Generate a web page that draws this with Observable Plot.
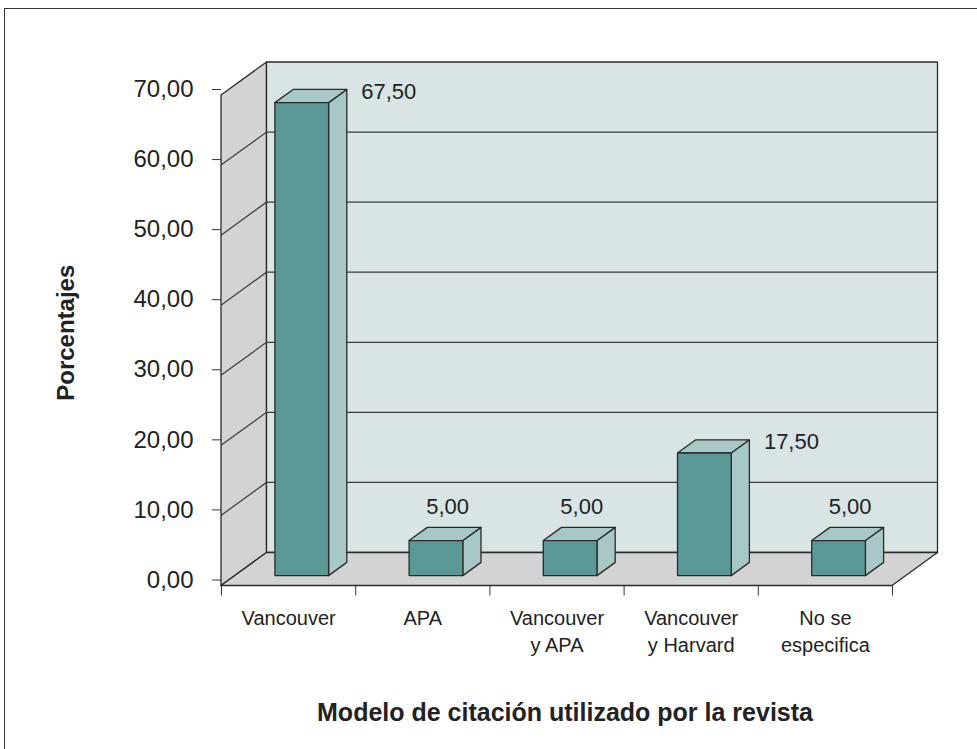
<!DOCTYPE html>
<html>
<head>
<meta charset="utf-8">
<script src="https://cdn.jsdelivr.net/npm/d3@7"></script>
<script src="https://cdn.jsdelivr.net/npm/@observablehq/plot@0.6"></script>
<style>
  html, body { margin: 0; padding: 0; background: #fff; overflow: hidden; }
  #wrap { position: relative; width: 977px; height: 749px; }
  #border { position: absolute; left: 4px; top: 8px; width: 2000px; height: 2000px;
            border-left: 1.5px solid #333; border-top: 1.5px solid #333; pointer-events: none; }
  #chart { position: absolute; left: 0; top: 0; }
</style>
</head>
<body>
<div id="wrap"><div id="chart"></div><div id="border"></div></div>
<script>
// ---- data ----
const categories = ["Vancouver", "APA", "Vancouver\ny APA", "Vancouver\ny Harvard", "No se\nespecifica"];
const values = [67.5, 5, 5, 17.5, 5];
const valueLabels = ["67,50", "5,00", "5,00", "17,50", "5,00"];
const yTicks = [0, 10, 20, 30, 40, 50, 60, 70];
const xTitle = "Modelo de citación utilizado por la revista";
const yTitle = "Porcentajes";

// ---- style constants ----
const DEPTH_X = 45.5, DEPTH_Y = -33;     // full floor depth in px
const BAR_D0 = 0.3, BAR_D1 = 0.7;        // bar position in depth
const BAR_X0 = 0.3, BAR_X1 = 0.7;        // bar position in its category
const C_WALL = "#d8e5e4", C_SIDE = "#d3d3d5", C_FRONT = "#5a9996", C_LIGHT = "#a7c8c6", C_STROKE = "#2a2a2a";
const FONT = "'Liberation Sans', Arial, Helvetica, sans-serif";

const rows = values.map((v, i) => ({i, v, label: valueLabels[i], cat: categories[i]}));
const nCat = categories.length;
const yMax = yTicks[yTicks.length - 1];

function pts(list) { return list.map(p => p.join(",")).join(" "); }

// walls, floor and gridlines, drawn through the x/y scales
function walls(index, scales) {
  const {x, y} = scales;
  const P = (xv, yv, d) => [x(xv) + d * DEPTH_X, y(yv) + d * DEPTH_Y];
  const g = d3.create("svg:g");
  const poly = (list, fill) => g.append("polygon").attr("points", pts(list))
    .attr("fill", fill).attr("stroke", C_STROKE).attr("stroke-width", 1.3).attr("stroke-linejoin", "round");
  poly([P(0, 0, 0), P(0, yMax, 0), P(0, yMax, 1), P(0, 0, 1)], C_SIDE);
  poly([P(0, 0, 1), P(0, yMax, 1), P(nCat, yMax, 1), P(nCat, 0, 1)], C_WALL);
  for (const t of yTicks) {
    if (t === 0 || t === yMax) continue;
    g.append("polyline").attr("points", pts([P(0, t, 0), P(0, t, 1), P(nCat, t, 1)]))
      .attr("fill", "none").attr("stroke", "#3a3a3a").attr("stroke-width", 1.2);
  }
  poly([P(0, 0, 0), P(nCat, 0, 0), P(nCat, 0, 1), P(0, 0, 1)], C_SIDE);
  return g.node();
}

function bars(index, scales) {
  const {x, y} = scales;
  const P = (xv, yv, d) => [x(xv) + d * DEPTH_X, y(yv) + d * DEPTH_Y];
  const g = d3.create("svg:g");
  const poly = (list, fill) => g.append("polygon").attr("points", pts(list))
    .attr("fill", fill).attr("stroke", C_STROKE).attr("stroke-width", 1.3).attr("stroke-linejoin", "round");
  for (const r of rows) {
    const a = r.i + BAR_X0, b = r.i + BAR_X1;
    poly([P(b, 0, BAR_D0), P(b, r.v, BAR_D0), P(b, r.v, BAR_D1), P(b, 0, BAR_D1)], C_LIGHT);
    poly([P(a, r.v, BAR_D0), P(a, r.v, BAR_D1), P(b, r.v, BAR_D1), P(b, r.v, BAR_D0)], C_LIGHT);
    poly([P(a, 0, BAR_D0), P(a, r.v, BAR_D0), P(b, r.v, BAR_D0), P(b, 0, BAR_D0)], C_FRONT);
  }
  return g.node();
}

const fmt = d => d.toFixed(2).replace(".", ",");
const tall = rows.filter(r => r.v > 10);
const small = rows.filter(r => r.v <= 10);

const chart = Plot.plot({
  width: 977,
  height: 749,
  marginLeft: 221,
  marginRight: 85,
  marginTop: 95,
  marginBottom: 163.5,
  x: {type: "linear", domain: [0, nCat], axis: null},
  y: {type: "linear", domain: [0, yMax], axis: null},
  style: {fontFamily: FONT, fontSize: "22px", color: "#222", background: "transparent", overflow: "visible"},
  marks: [
    walls,
    bars,
    Plot.axisY({ticks: yTicks, tickSize: 9, tickPadding: 19, tickFormat: fmt, dy: -6, fontSize: 24, label: null, stroke: "#333"}),
    Plot.axisX({ticks: d3.range(nCat + 1), tickSize: 10, tickFormat: () => "", label: null, stroke: "#333"}),
    Plot.text(rows, {x: d => d.i + 0.5, frameAnchor: "bottom", text: "cat", lineAnchor: "top", dy: 20,
      fontSize: 20, lineHeight: 1.35, fill: "#222"}),
    Plot.text(small, {x: d => d.i + 0.5, y: "v", text: "label", lineAnchor: "bottom",
      dx: 0.5 * DEPTH_X + 2, dy: BAR_D1 * DEPTH_Y - 14, fontSize: 22, fill: "#222"}),
    Plot.text(tall, {x: d => d.i + BAR_X1, y: "v", text: "label", lineAnchor: "middle", textAnchor: "start",
      dx: BAR_D1 * DEPTH_X + 14, dy: 0.5 * DEPTH_Y - 5, fontSize: 22, fill: "#222"}),
    Plot.text([xTitle], {frameAnchor: "bottom", dx: 8, dy: 127, lineAnchor: "middle", fontSize: 25, fontWeight: "bold", fill: "#222"}),
    Plot.text([yTitle], {frameAnchor: "left", dx: -155, dy: -8, rotate: -90, textAnchor: "middle", lineAnchor: "middle", fontSize: 24, fontWeight: "bold", fill: "#222"})
  ]
});
document.getElementById("chart").appendChild(chart);
</script>
</body>
</html>
